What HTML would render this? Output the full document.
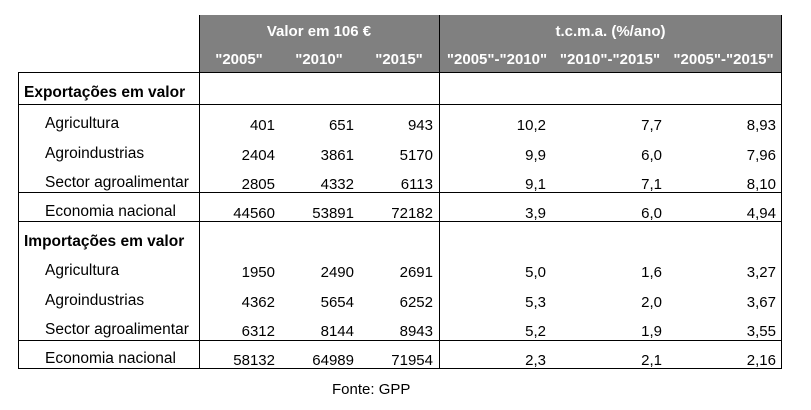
<!DOCTYPE html>
<html><head><meta charset="utf-8"><style>
body{margin:0;width:811px;height:408px;background:#fff;position:relative;font-family:"Liberation Sans",sans-serif;font-size:15px;color:#000;overflow:hidden}
div{position:absolute;white-space:nowrap}
.l{background:#000}
.t{line-height:18px}
.r{text-align:right;width:90px}
.c{text-align:center}
.h{color:#fff;font-weight:bold}
.lb{left:45px;font-size:15.5px}
#txt{left:0;top:2px;width:811px;height:408px}
</style></head><body>
<div style="left:199px;top:15px;width:583px;height:58px;background:#808080"></div>
<div class="l" style="left:199px;top:15px;width:1px;height:354px"></div>
<div class="l" style="left:439px;top:15px;width:1px;height:354px"></div>
<div class="l" style="left:781px;top:15px;width:1px;height:354px"></div>
<div class="l" style="left:18px;top:72px;width:1px;height:297px"></div>
<div class="l" style="left:18px;top:72px;width:764px;height:1px"></div>
<div class="l" style="left:18px;top:104px;width:764px;height:1px"></div>
<div class="l" style="left:18px;top:192px;width:764px;height:1px"></div>
<div class="l" style="left:18px;top:221px;width:764px;height:1px"></div>
<div class="l" style="left:18px;top:340px;width:764px;height:1px"></div>
<div class="l" style="left:18px;top:368px;width:764px;height:1px"></div>
<div id="txt">
<div class="t h c" style="left:199px;width:240px;top:21px">Valor em 106 €</div>
<div class="t h c" style="left:439px;width:343px;top:21px">t.c.m.a. (%/ano)</div>
<div class="t h c" style="left:199px;width:80px;top:49px">"2005"</div>
<div class="t h c" style="left:279px;width:80px;top:49px">"2010"</div>
<div class="t h c" style="left:359px;width:80px;top:49px">"2015"</div>
<div class="t h c" style="left:439px;width:116px;top:49px">"2005"-"2010"</div>
<div class="t h c" style="left:555px;width:110px;top:49px">"2010"-"2015"</div>
<div class="t h c" style="left:665px;width:117px;top:49px">"2005"-"2015"</div>
<div class="t" style="left:24px;top:82px;font-weight:bold;font-size:15.5px">Exportações em valor</div>
<div class="t" style="left:24px;top:231px;font-weight:bold;font-size:15.5px">Importações em valor</div>

<div class="t lb" style="top:113px">Agricultura</div>
<div class="t r" style="left:185px;top:115px">401</div><div class="t r" style="left:264px;top:115px">651</div><div class="t r" style="left:343px;top:115px">943</div>
<div class="t r" style="left:456px;top:115px">10,2</div><div class="t r" style="left:572px;top:115px">7,7</div><div class="t r" style="left:686px;top:115px">8,93</div>

<div class="t lb" style="top:143px">Agroindustrias</div>
<div class="t r" style="left:185px;top:145px">2404</div><div class="t r" style="left:264px;top:145px">3861</div><div class="t r" style="left:343px;top:145px">5170</div>
<div class="t r" style="left:456px;top:145px">9,9</div><div class="t r" style="left:572px;top:145px">6,0</div><div class="t r" style="left:686px;top:145px">7,96</div>

<div class="t lb" style="top:172px">Sector agroalimentar</div>
<div class="t r" style="left:185px;top:174px">2805</div><div class="t r" style="left:264px;top:174px">4332</div><div class="t r" style="left:343px;top:174px">6113</div>
<div class="t r" style="left:456px;top:174px">9,1</div><div class="t r" style="left:572px;top:174px">7,1</div><div class="t r" style="left:686px;top:174px">8,10</div>

<div class="t lb" style="top:201px">Economia nacional</div>
<div class="t r" style="left:185px;top:203px">44560</div><div class="t r" style="left:264px;top:203px">53891</div><div class="t r" style="left:343px;top:203px">72182</div>
<div class="t r" style="left:456px;top:203px">3,9</div><div class="t r" style="left:572px;top:203px">6,0</div><div class="t r" style="left:686px;top:203px">4,94</div>

<div class="t lb" style="top:260px">Agricultura</div>
<div class="t r" style="left:185px;top:262px">1950</div><div class="t r" style="left:264px;top:262px">2490</div><div class="t r" style="left:343px;top:262px">2691</div>
<div class="t r" style="left:456px;top:262px">5,0</div><div class="t r" style="left:572px;top:262px">1,6</div><div class="t r" style="left:686px;top:262px">3,27</div>

<div class="t lb" style="top:290px">Agroindustrias</div>
<div class="t r" style="left:185px;top:292px">4362</div><div class="t r" style="left:264px;top:292px">5654</div><div class="t r" style="left:343px;top:292px">6252</div>
<div class="t r" style="left:456px;top:292px">5,3</div><div class="t r" style="left:572px;top:292px">2,0</div><div class="t r" style="left:686px;top:292px">3,67</div>

<div class="t lb" style="top:319px">Sector agroalimentar</div>
<div class="t r" style="left:185px;top:321px">6312</div><div class="t r" style="left:264px;top:321px">8144</div><div class="t r" style="left:343px;top:321px">8943</div>
<div class="t r" style="left:456px;top:321px">5,2</div><div class="t r" style="left:572px;top:321px">1,9</div><div class="t r" style="left:686px;top:321px">3,55</div>

<div class="t lb" style="top:348px">Economia nacional</div>
<div class="t r" style="left:185px;top:350px">58132</div><div class="t r" style="left:264px;top:350px">64989</div><div class="t r" style="left:343px;top:350px">71954</div>
<div class="t r" style="left:456px;top:350px">2,3</div><div class="t r" style="left:572px;top:350px">2,1</div><div class="t r" style="left:686px;top:350px">2,16</div>

<div class="t" style="left:332px;top:379px">Fonte: GPP</div>
</div>
</body></html>
